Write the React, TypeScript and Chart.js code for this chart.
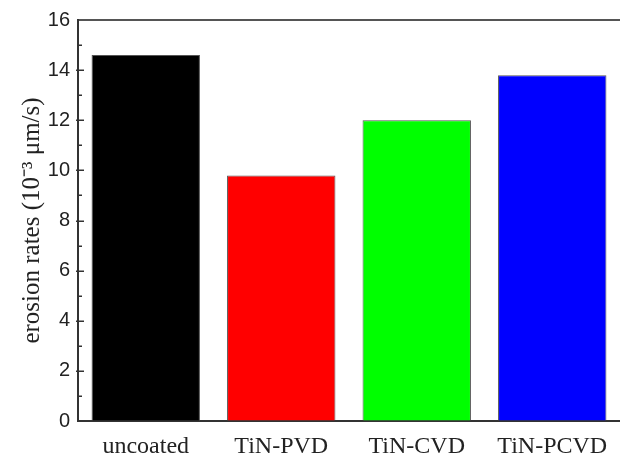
import React, { useEffect, useRef } from 'react';
import { Chart, registerables } from 'chart.js';

Chart.register(...registerables);

const categories = ['uncoated', 'TiN-PVD', 'TiN-CVD', 'TiN-PCVD'];
const erosionRates = [14.6, 9.8, 12.0, 13.8];
const barColors = ['#000000', '#ff0000', '#00ff00', '#0000ff'];
const yMin = 0;
const yMax = 16;
const yStep = 1;
const yAxisTitle = 'erosion rates (10\u207B\u00B3 \u03BCm/s)';

const serif = '"Liberation Serif", "Times New Roman", serif';
const sans = '"Liberation Sans", Arial, sans-serif';

export default function App() {
  const ref = useRef<HTMLCanvasElement>(null);

  useEffect(() => {
    if (!ref.current) return;
    const innerTicks = {
      id: 'innerTicks',
      afterDatasetsDraw(chart: any) {
        const s = chart.scales.y;
        const left = chart.chartArea.left;
        const ctx = chart.ctx;
        ctx.save();
        ctx.strokeStyle = '#333';
        ctx.lineWidth = 1.5;
        s.ticks.forEach((t: any) => {
          if (t.value === yMin || t.value === yMax) return;
          const y = Math.round(s.getPixelForValue(t.value)) + 0.25;
          const major = t.value % 2 === 0;
          ctx.beginPath();
          ctx.moveTo(left - (major ? 2 : 1), y);
          ctx.lineTo(left + (major ? 6 : 4), y);
          ctx.stroke();
        });
        ctx.restore();
      },
    };

    const chart = new Chart(ref.current, {
      type: 'bar',
      data: {
        labels: categories,
        datasets: [
          {
            data: erosionRates,
            backgroundColor: barColors,
            borderColor: '#555',
            borderWidth: 1,
            barPercentage: 0.8,
            categoryPercentage: 1,
          },
        ],
      },
      options: {
        animation: false,
        responsive: false,
        maintainAspectRatio: false,
        layout: { padding: { left: 0, right: 0, top: 18, bottom: 0 } },
        plugins: { legend: { display: false }, tooltip: { enabled: false } },
        scales: {
          x: {
            grid: { display: true, drawOnChartArea: false, drawTicks: false },
            border: { display: true, color: '#333', width: 2 },
            ticks: { font: { family: serif, size: 24 }, color: '#222', padding: 11 },
            afterFit: (s: any) => {
              s.height = 42;
            },
          },
          x2: {
            type: 'category',
            position: 'top',
            labels: categories,
            grid: { display: true, drawOnChartArea: false, drawTicks: false },
            border: { display: true, color: '#555', width: 2 },
            ticks: { display: false },
            afterFit: (s: any) => {
              s.height = 0;
            },
          },
          y: {
            min: yMin,
            max: yMax,
            grid: { display: true, drawOnChartArea: false, drawTicks: false },
            border: { display: true, color: '#333', width: 2 },
            ticks: {
              stepSize: yStep,
              autoSkip: false,
              callback: (v: any) => (Number(v) % 2 === 0 ? String(v) : ''),
              font: { family: sans, size: 20 },
              color: '#222',
              padding: 8,
            },
            title: {
              display: true,
              text: yAxisTitle,
              font: { family: serif, size: 25 },
              color: '#222',
              padding: { top: 17, bottom: 0 },
            },
            afterFit: (s: any) => {
              s.width = 78;
            },
          },
        },
      },
      plugins: [innerTicks],
    } as any);

    return () => chart.destroy();
  }, []);

  return (
    <div style={{ position: 'fixed', left: 0, top: 0, width: 620, height: 463, background: '#fff' }}>
      <canvas ref={ref} width={620} height={463} style={{ width: 620, height: 463, display: 'block' }} />
    </div>
  );
}
